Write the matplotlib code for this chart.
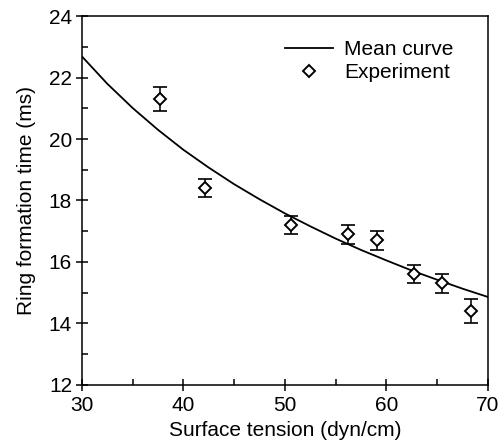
import numpy as np
import matplotlib
matplotlib.use("Agg")
import matplotlib.pyplot as plt
from matplotlib.ticker import MultipleLocator

plt.rcParams['font.family'] = ['Liberation Sans', 'DejaVu Sans']

# mean curve
curva_x = [30, 32.5, 35, 37.5, 40, 42.5, 45, 47.5, 50, 52.5, 55, 57.5, 60, 62.5, 65, 67.5, 70]
curva_y = [22.69, 21.80, 21.01, 20.30, 19.65, 19.07, 18.53, 18.04, 17.58, 17.16,
           16.76, 16.39, 16.05, 15.72, 15.42, 15.13, 14.86]

# experiment points
exp_x = [37.7, 42.1, 50.6, 56.2, 59.1, 62.7, 65.5, 68.3]
exp_y = [21.3, 18.4, 17.2, 16.9, 16.7, 15.6, 15.3, 14.4]
exp_err = [0.4, 0.3, 0.3, 0.3, 0.3, 0.3, 0.3, 0.4]

fig = plt.figure(figsize=(5.02, 4.46), dpi=100)
ax = fig.add_axes([0.163, 0.137, 0.809, 0.827])

ax.plot(curva_x, curva_y, color="black", lw=1.3, label="Mean curve")
ax.errorbar(exp_x, exp_y, yerr=exp_err, fmt="none", ecolor="black",
            elinewidth=1.1, capsize=5, capthick=1.2)
ax.plot(exp_x, exp_y, "D", ms=6.5, mfc="white", mec="black", mew=1.4,
        ls="none", label="Experiment")

ax.set_xlim(30, 70)
ax.set_ylim(12, 24)
ax.xaxis.set_major_locator(MultipleLocator(10))
ax.xaxis.set_minor_locator(MultipleLocator(5))
ax.yaxis.set_major_locator(MultipleLocator(2))
ax.yaxis.set_minor_locator(MultipleLocator(1))
ax.tick_params(which="major", direction="inout", length=8, width=1.1, labelsize=15)
ax.tick_params(axis="x", which="major", pad=4)
ax.tick_params(axis="y", which="major", pad=3)
ax.tick_params(which="minor", direction="in", length=4, width=1.1)
for s in ax.spines.values():
    s.set_linewidth(1.1)

ax.set_xlabel("Surface tension (dyn/cm)", fontsize=15, labelpad=4)
ax.set_ylabel("Ring formation time (ms)", fontsize=15, labelpad=9)

ax.legend(loc="upper right", bbox_to_anchor=(0.915, 0.935), frameon=False,
          fontsize=15, handlelength=2.3, handletextpad=0.55, labelspacing=0.2,
          borderpad=0, borderaxespad=0)

fig.savefig("out.png", dpi=100)
